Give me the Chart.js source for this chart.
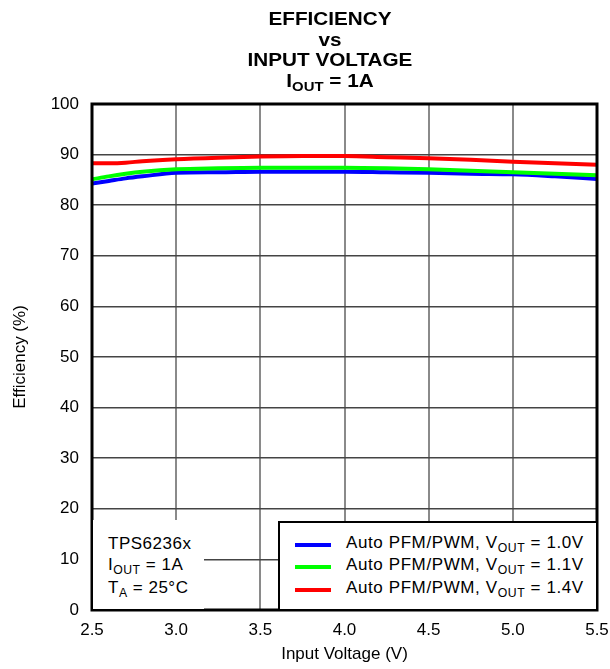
<!DOCTYPE html>
<html>
<head>
<meta charset="utf-8">
<script src="https://cdn.jsdelivr.net/npm/chart.js@4.4.1/dist/chart.umd.min.js"></script>
<style>
  html, body { margin:0; padding:0; background:#fff; }
  #wrap { position:relative; width:610px; height:669px; font-family:"Liberation Sans", Arial, sans-serif; color:#000; }
  canvas { position:absolute; left:0; top:0; }
  .title { position:absolute; left:200px; width:260px; text-align:center; font-weight:bold; font-size:18px; line-height:20px; transform:scaleX(1.15); }
  sub { font-size:0.72em; vertical-align:-0.3em; line-height:0; }
  #legend { position:absolute; left:278px; top:521px; width:316px; height:86px; background:#fff; border:2px solid #000; }
  .lrow { position:absolute; left:0; font-size:17px; white-space:nowrap; letter-spacing:0.6px; }
  .lline { position:absolute; left:15px; width:36px; height:4px; }
  .ltext { position:absolute; left:66px; }
  #note { position:absolute; left:93px; top:520px; width:111px; height:89px; background:#fff; font-size:17px; letter-spacing:0.5px; }
  #note div { position:absolute; left:15px; white-space:nowrap; }
</style>
</head>
<body>
<div id="wrap">
  <canvas id="c" width="610" height="669"></canvas>
  <div class="title" style="top:9px;">EFFICIENCY</div>
  <div class="title" style="top:30px;">vs</div>
  <div class="title" style="top:50px;">INPUT VOLTAGE</div>
  <div class="title" style="top:71px;">I<sub>OUT</sub> = 1A</div>
  <div id="note">
    <div style="top:14px;">TPS6236x</div>
    <div style="top:35px;">I<sub>OUT</sub> = 1A</div>
    <div style="top:58px;">T<sub>A</sub> = 25°C</div>
  </div>
  <div id="legend"></div>
</div>
<script>
const voltage = [2.5, 2.6, 2.7, 2.8, 3.0, 3.25, 3.5, 3.75, 4.0, 4.25, 4.5, 4.75, 5.0, 5.25, 5.5];
const eff10V = [84.3, 84.8, 85.3, 85.7, 86.4, 86.5, 86.6, 86.6, 86.6, 86.5, 86.4, 86.2, 86.1, 85.7, 85.2];
const eff11V = [85.1, 85.7, 86.2, 86.6, 87.1, 87.3, 87.4, 87.4, 87.4, 87.3, 87.1, 86.8, 86.5, 86.2, 85.9];
const eff14V = [88.3, 88.3, 88.4, 88.7, 89.1, 89.4, 89.6, 89.7, 89.7, 89.5, 89.3, 89.0, 88.6, 88.3, 88.0];
const seriesNames = ["1.0V", "1.1V", "1.4V"];
const seriesColors = ["#0000ff", "#00ff00", "#ff0000"];
const xTicks = [2.5, 3.0, 3.5, 4.0, 4.5, 5.0, 5.5];
const yTicks = [0, 10, 20, 30, 40, 50, 60, 70, 80, 90, 100];

const seriesData = [eff10V, eff11V, eff14V];
const datasets = seriesData.map((arr, i) => ({
  label: "Auto PFM/PWM, VOUT = " + seriesNames[i],
  data: voltage.map((v, j) => ({x: v, y: arr[j]})),
  borderColor: seriesColors[i],
  backgroundColor: seriesColors[i],
  borderWidth: 4,
  pointRadius: 0,
  cubicInterpolationMode: 'monotone',
  fill: false
}));

// HTML legend with subscripts
const legend = document.getElementById('legend');
const rowTops = [10, 32, 55];
seriesNames.forEach((n, i) => {
  const row = document.createElement('div');
  row.className = 'lrow';
  row.style.top = rowTops[i] + 'px';
  row.innerHTML = '<div class="lline" style="top:10px;background:' + seriesColors[i] + '"></div>' +
    '<div class="ltext">Auto PFM/PWM, V<sub>OUT</sub> = ' + n + '</div>';
  legend.appendChild(row);
});

const frame = {
  id: 'frame',
  afterDatasetsDraw(chart) {
    const a = chart.chartArea, ctx = chart.ctx;
    ctx.save();
    ctx.strokeStyle = '#000';
    ctx.lineWidth = 3;
    ctx.strokeRect(a.left, a.top, a.right - a.left, a.bottom - a.top);
    ctx.restore();
  }
};

const tickFont = { family: 'Liberation Sans, Arial', size: 17 };

new Chart(document.getElementById('c'), {
  type: 'line',
  data: { datasets: datasets.slice().reverse() },
  plugins: [frame],
  options: {
    responsive: false,
    animation: false,
    layout: { padding: { top: 104, right: 13, left: 0, bottom: 0 } },
    plugins: { legend: { display: false }, title: { display: false }, tooltip: { enabled: false } },
    scales: {
      x: {
        type: 'linear', min: 2.5, max: 5.5,
        afterBuildTicks: s => { s.ticks = xTicks.map(v => ({value: v})); },
        afterFit: s => { s.height = 59; s.paddingLeft = 0; s.paddingRight = 0; },
        grid: { color: '#8a8a8a', lineWidth: 2, drawTicks: false },
        border: { display: false },
        ticks: { color: '#000', font: tickFont, padding: 10,
                 maxRotation: 0, callback: v => v.toFixed(1) },
        title: { display: true, text: 'Input Voltage (V)', color: '#000',
                 font: { family: 'Liberation Sans, Arial', size: 17 }, padding: { top: 0, bottom: 4 } }
      },
      y: {
        min: 0, max: 100,
        afterBuildTicks: s => { s.ticks = yTicks.map(v => ({value: v})); },
        afterFit: s => { s.width = 92; s.paddingTop = 0; s.paddingBottom = 0; },
        grid: { color: '#444', lineWidth: 1.5, drawTicks: false },
        border: { display: false },
        ticks: { color: '#000', font: tickFont, padding: 13 },
        title: { display: true, text: 'Efficiency (%)', color: '#000',
                 font: { family: 'Liberation Sans, Arial', size: 17 }, padding: { top: 10, bottom: 0 } }
      }
    }
  }
});
</script>
</body>
</html>
